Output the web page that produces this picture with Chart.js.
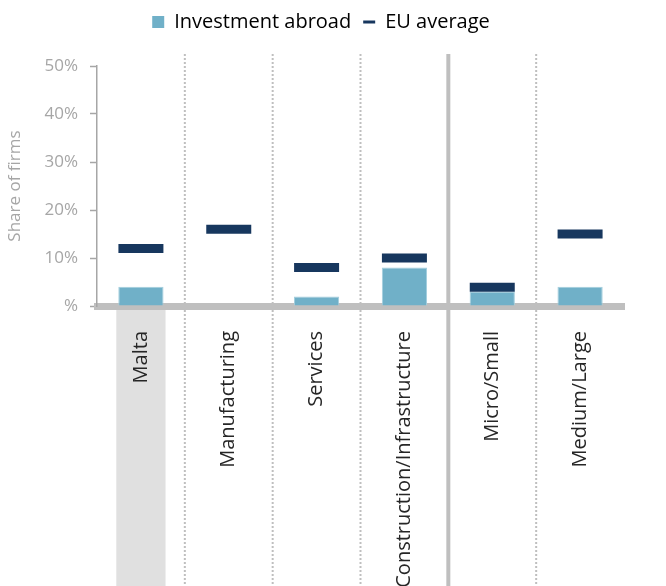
<!DOCTYPE html>
<html>
<head>
<meta charset="utf-8">
<script src="https://cdn.jsdelivr.net/npm/chart.js@4"></script>
<style>
    html, body { margin: 0; padding: 0; background: #ffffff; }
    #wrap { width: 666px; height: 586px; }
</style>
</head>
<body>
<div id="wrap"><canvas id="chart"></canvas></div>
<script>
(function() {
    const categories = ["Malta", "Manufacturing", "Services", "Construction/Infrastructure", "Micro/Small", "Medium/Large"];
    const investmentAbroad = [4, 0, 2, 8, 3, 4];
    const euAverage = [12, 16, 8, 10, 3.9, 15];
    const yTickLabels = ["%", "10%", "20%", "30%", "40%", "50%"];

    // index of the separator drawn as a solid line (sectors | firm size)
    const solidSeparator = 4;

    const separators = {
        id: "separators",
        beforeDraw(chart) {
            const {ctx, chartArea, scales: {x}} = chart;
            const bar = chart.getDatasetMeta(0).data[0];
            ctx.save();

            // grey band under the Malta label
            const w = bar.width + 4;
            ctx.fillStyle = "#e0e0e0";
            ctx.fillRect(bar.x - w / 2, chartArea.bottom, w, chart.height - chartArea.bottom);

            for (let i = 1; i < categories.length; i++) {
                const px = (x.getPixelForValue(i - 1) + x.getPixelForValue(i)) / 2;
                ctx.beginPath();
                if (i === solidSeparator) {
                    ctx.lineWidth = 4;
                    ctx.setLineDash([]);
                } else {
                    ctx.lineWidth = 2;
                    ctx.setLineDash([2, 2]);
                }
                ctx.strokeStyle = "#bfbfbf";
                ctx.moveTo(px, chartArea.top - 12);
                ctx.lineTo(px, chart.height);
                ctx.stroke();
            }
            ctx.restore();
        }
    };

    Chart.defaults.font.family = "'Open Sans', sans-serif";

    new Chart(document.getElementById("chart"), {
        type: "bar",
        data: {
            labels: categories,
            datasets: [
                {
                    label: "Investment abroad",
                    data: investmentAbroad,
                    backgroundColor: "#70b0c8",
                    borderColor: "#a3cedd",
                    borderWidth: 1,
                    categoryPercentage: 1,
                    barPercentage: 0.515,
                    order: 2
                },
                {
                    type: "line",
                    label: "EU average",
                    data: euAverage,
                    showLine: false,
                    pointStyle: "line",
                    pointRadius: 22.5,
                    pointHoverRadius: 22.5,
                    pointBorderWidth: 9,
                    pointBorderColor: "#17375e",
                    pointBackgroundColor: "#17375e",
                    borderColor: "#17375e",
                    order: 1
                }
            ]
        },
        options: {
            responsive: true,
            maintainAspectRatio: false,
            animation: false,
            layout: {
                padding: {top: 0, left: 18, right: 42, bottom: 0}
            },
            plugins: {
                legend: {
                    position: "top",
                    labels: {
                        usePointStyle: true,
                        pointStyleWidth: 12,
                        boxHeight: 12,
                        padding: 12,
                        color: "#404040",
                        font: {size: 20},
                        generateLabels: () => [
                            {text: "Investment abroad", fillStyle: "#70b0c8", strokeStyle: "#70b0c8", lineWidth: 0, pointStyle: "rect", datasetIndex: 0, hidden: false},
                            {text: "EU average", fillStyle: "#17375e", strokeStyle: "#17375e", lineWidth: 3, pointStyle: "line", datasetIndex: 1, hidden: false}
                        ]
                    }
                },
                subtitle: {
                    display: true,
                    text: "",
                    weight: 500,
                    padding: 0,
                    font: {size: 20}
                },
                tooltip: {enabled: false}
            },
            scales: {
                x: {
                    grid: {display: false, drawTicks: false},
                    border: {display: true, color: "#bfbfbf", width: 7},
                    ticks: {
                        minRotation: 90,
                        maxRotation: 90,
                        autoSkip: false,
                        padding: 25,
                        color: "#262626",
                        font: {size: 20}
                    },
                    afterFit: (scale) => { scale.height = 280; }
                },
                y: {
                    min: 0,
                    max: 50,
                    grid: {drawOnChartArea: false, drawTicks: true, tickLength: 7, color: "#a6a6a6", tickWidth: 1.5},
                    border: {display: true, color: "#a6a6a6", width: 1.5},
                    ticks: {
                        stepSize: 10,
                        padding: 12,
                        color: "#a6a6a6",
                        font: {size: 17},
                        callback: (value, index) => yTickLabels[index]
                    },
                    title: {
                        display: true,
                        text: "Share of firms",
                        color: "#a6a6a6",
                        font: {size: 17},
                        padding: {top: -13, bottom: 0}
                    },
                    afterFit: (scale) => { scale.width = 79; }
                }
            }
        },
        plugins: [separators]
    });
})();
</script>
</body>
</html>
